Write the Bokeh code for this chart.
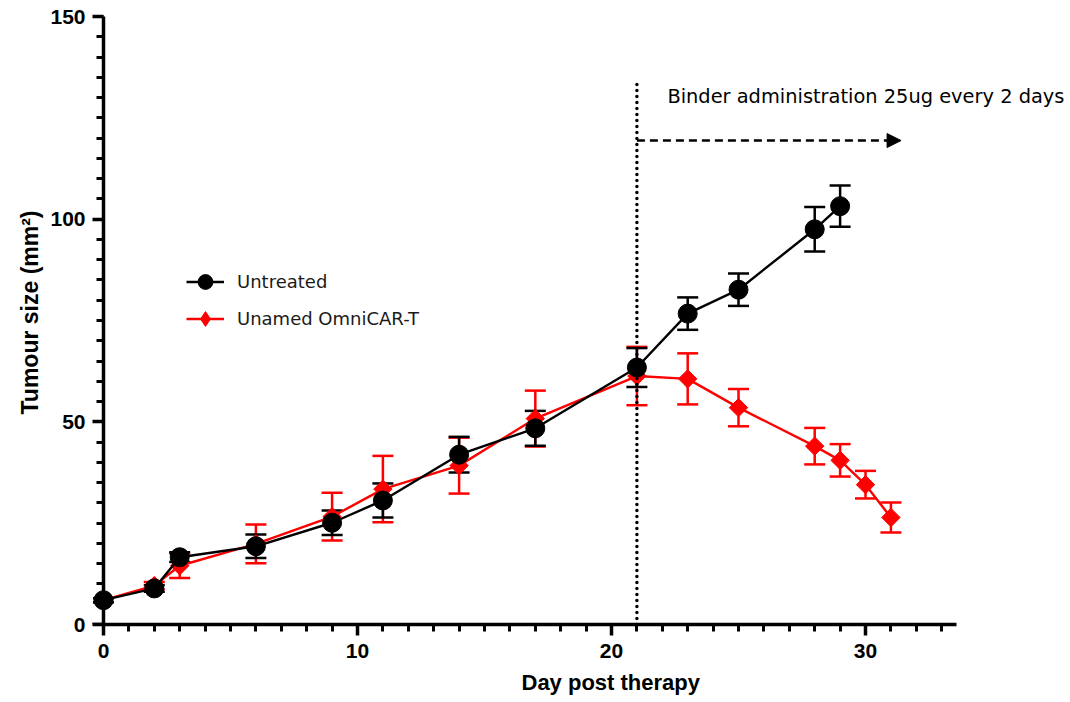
import numpy as np
from bokeh.plotting import figure
from bokeh.models import (ColumnDataSource, Whisker, TeeHead, Legend, LegendItem,
                          Label, Arrow, NormalHead, FixedTicker, LinearAxis, Title)
from bokeh.embed import file_html
from bokeh.resources import INLINE

# ---------------- data ----------------
days_untreated = [0, 2, 3, 6, 9, 11, 14, 17, 21, 23, 25, 28, 29]
untreated_mean = [6.0, 8.9, 16.6, 19.3, 25.1, 30.6, 41.9, 48.4, 63.4, 76.7, 82.6, 97.5, 103.2]
untreated_sem = [0.5, 0.8, 1.2, 2.9, 3.0, 4.2, 4.4, 4.3, 4.8, 4.0, 4.0, 5.5, 5.1]

days_car = [0, 2, 3, 6, 9, 11, 14, 17, 21, 23, 25, 28, 29, 30, 31]
car_mean = [6.0, 9.6, 14.5, 19.9, 26.6, 33.4, 39.2, 50.8, 61.3, 60.6, 53.5, 44.0, 40.5, 34.5, 26.4]
car_sem = [0.5, 0.9, 3.0, 4.8, 5.9, 8.2, 6.9, 6.9, 7.2, 6.3, 4.6, 4.5, 4.0, 3.4, 3.7]

series_labels = ["Untreated", "Unamed OmniCAR-T"]
x_major_ticks = [0, 10, 20, 30]
x_minor_ticks = list(range(0, 34))
y_major_ticks = [0, 50, 100, 150]
y_minor_ticks = list(range(0, 151, 5))

binder_day = 21
binder_line_top = 134.7
arrow_y = 119.4
arrow_end_day = 31.4
annotation_text = "Binder administration 25ug every 2 days"

FONT = "Liberation Sans"

# ---------------- figure ----------------
p = figure(width=1070, height=702, output_backend="svg", toolbar_location=None,
           x_range=(-0.59, 38.07), y_range=(0, 153.95),
           min_border_left=88, min_border_right=0, min_border_top=0,
           min_border_bottom=78)
p.outline_line_color = None
p.xgrid.visible = False
p.ygrid.visible = False
p.background_fill_color = "white"
p.border_fill_color = "white"


def style_rule(ax):
    ax.axis_line_width = 3.5
    ax.axis_line_color = "black"
    ax.major_tick_line_width = 3.5
    ax.minor_tick_line_width = 3.0
    ax.major_tick_line_color = "black"
    ax.minor_tick_line_color = "black"
    ax.major_tick_out = 11
    ax.major_tick_in = 0
    ax.minor_tick_out = 7
    ax.minor_tick_in = 0


def style_labels(ax):
    ax.major_label_text_font = FONT
    ax.major_label_text_font_style = "bold"
    ax.major_label_text_font_size = "21px"
    ax.major_label_text_color = "black"


# x axis (regular, at y = 0)
xax = p.xaxis[0]
style_rule(xax)
style_labels(xax)
xax.ticker = FixedTicker(ticks=x_major_ticks, minor_ticks=x_minor_ticks)
xax.bounds = (-0.43, 33.6)
xax.major_label_standoff = 8

# y axis A: tick labels + title only (at the frame edge)
yax = p.yaxis[0]
style_labels(yax)
yax.ticker = FixedTicker(ticks=y_major_ticks, minor_ticks=[])
yax.axis_line_color = None
yax.major_tick_line_color = None
yax.minor_tick_line_color = None
yax.major_tick_out = 0
yax.major_tick_in = 0
yax.minor_tick_out = 0
yax.minor_tick_in = 0
yax.major_label_standoff = 3
yax.axis_label = "Tumour size (mm²)"
yax.axis_label_text_font = FONT
yax.axis_label_text_font_style = "bold"
yax.axis_label_text_font_size = "23px"
yax.axis_label_text_color = "black"
yax.axis_label_standoff = 4

# y axis B: the rule and ticks, placed at day 0
yrule = LinearAxis(fixed_location=0, bounds=(0, 150),
                   ticker=FixedTicker(ticks=y_major_ticks, minor_ticks=y_minor_ticks),
                   major_label_overrides={t: "" for t in y_major_ticks},
                   major_label_text_font_size="1px")
style_rule(yrule)
p.add_layout(yrule, "left")

# x axis title, centred under day 20 like the reference
p.add_layout(Title(text="Day post therapy", align="left", offset=433, standoff=15,
                   text_font=FONT, text_font_style="bold", text_font_size="22px",
                   text_color="black"), "below")

# ---------------- error bars ----------------
src_car = ColumnDataSource(dict(
    x=days_car, y=car_mean,
    upper=[m + s for m, s in zip(car_mean, car_sem)],
    lower=[m - s for m, s in zip(car_mean, car_sem)]))
src_unt = ColumnDataSource(dict(
    x=days_untreated, y=untreated_mean,
    upper=[m + s for m, s in zip(untreated_mean, untreated_sem)],
    lower=[m - s for m, s in zip(untreated_mean, untreated_sem)]))

for src, col in ((src_car, "#ff0000"), (src_unt, "black")):
    w = Whisker(source=src, base="x", upper="upper", lower="lower",
                line_color=col, line_width=2.5,
                upper_head=TeeHead(size=21, line_color=col, line_width=2.5),
                lower_head=TeeHead(size=21, line_color=col, line_width=2.5))
    p.add_layout(w)

# ---------------- series ----------------
red_line = p.line("x", "y", source=src_car, line_color="#ff0000", line_width=2.4)
red_pts = p.scatter("x", "y", source=src_car, marker="square", angle=np.pi / 4,
                    size=13, fill_color="#ff0000", line_color="#ff0000")
# legend-only diamond icon (no visible data point)
red_icon = p.scatter(x=[np.nan], y=[np.nan], marker="diamond",
                     fill_color="#ff0000", line_color="#ff0000")

blk_line = p.line("x", "y", source=src_unt, line_color="black", line_width=2.4)
blk_pts = p.scatter("x", "y", source=src_unt, marker="circle", size=19,
                    fill_color="black", line_color="black")

# ---------------- annotations ----------------
p.segment(x0=[binder_day], y0=[0], x1=[binder_day], y1=[binder_line_top],
          line_color="black", line_width=3.5, line_dash="0 6", line_cap="round")

p.add_layout(Arrow(x_start=binder_day, y_start=arrow_y, x_end=arrow_end_day, y_end=arrow_y,
                   line_color="black", line_width=2.5, line_dash="8 5",
                   end=NormalHead(size=14, fill_color="black", line_color="black",
                                  line_width=1)))

p.add_layout(Label(x=22.2, y=130.3, text=annotation_text, text_font="DejaVu Sans",
                   text_font_size="19.4px", text_baseline="middle", text_color="black"))

# ---------------- legend ----------------
legend = Legend(items=[
    LegendItem(label=series_labels[0], renderers=[blk_line, blk_pts]),
    LegendItem(label=series_labels[1], renderers=[red_line, red_icon]),
], location=(98, 287), orientation="vertical",
    glyph_width=38, glyph_height=37, spacing=0, label_standoff=13,
    padding=0, margin=0, border_line_color=None, background_fill_alpha=0,
    label_text_font="DejaVu Sans", label_text_font_size="18px",
    label_text_color="#1a1a1a")
p.add_layout(legend)

open("out.html", "w").write(file_html(p, INLINE))
